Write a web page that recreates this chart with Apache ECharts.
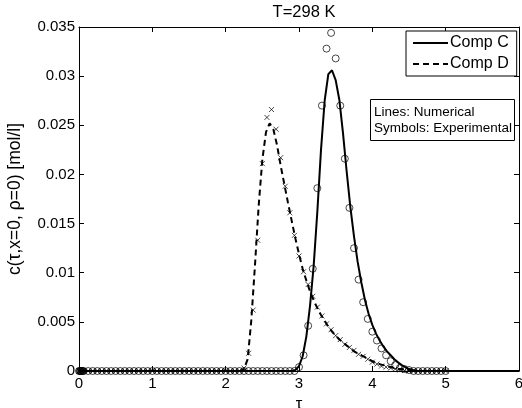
<!DOCTYPE html>
<html>
<head>
<meta charset="utf-8">
<script src="https://cdn.jsdelivr.net/npm/echarts@6/dist/echarts.min.js"></script>
<style>html,body{margin:0;padding:0;background:#fff;}#chart{width:522px;height:408px;}</style>
</head>
<body>
<div id="chart"></div>
<script>
// Experimental sampling times (tau)
var tauExp = [0,0.01,0.02,0.03,0.04,0.05,0.0625,0.125,0.1875,0.25,0.3125,0.375,0.4375,0.5,0.5625,0.625,0.6875,0.75,0.8125,0.875,0.9375,1,1.0625,1.125,1.1875,1.25,1.3125,1.375,1.4375,1.5,1.5625,1.625,1.6875,1.75,1.8125,1.875,1.9375,2,2.0625,2.125,2.1875,2.25,2.3125,2.375,2.4375,2.5,2.5625,2.625,2.6875,2.75,2.8125,2.875,2.9375,3,3.0625,3.125,3.1875,3.25,3.3125,3.375,3.4375,3.5,3.5625,3.625,3.6875,3.75,3.8125,3.875,3.9375,4,4.0625,4.125,4.1875,4.25,4.3125,4.375,4.4375,4.5,4.5625,4.625,4.6875,4.75,4.8125,4.875,4.9375,5];
// Comp C experimental (circles)
var compCExp = [0,0,0,0,0,0,0,0,0,0,0,0,0,0,0,0,0,0,0,0,0,0,0,0,0,0,0,0,0,0,0,0,0,0,0,0,0,0,0,0,0,0,0,0,0,0,0,0,0,0,0,0,0,
  0.0004,0.0016,0.0046,0.0104,0.0186,0.0270,0.0328,0.0344,0.0318,0.0270,0.0216,0.0166,0.0125,0.0093,0.0070,0.0053,0.0040,0.0031,0.0023,0.0016,0.0010,0.0006,0.0003,0.0002,0.0001,
  0,0,0,0,0,0,0,0];
// Comp D experimental (crosses)
var compDExp = [0,0,0,0,0,0,0,0,0,0,0,0,0,0,0,0,0,0,0,0,0,0,0,0,0,0,0,0,0,0,0,0,0,0,0,0,0,0,0,0,0,
  0.0003,0.0018,0.0062,0.0133,0.0211,0.0258,0.0266,0.0246,0.0217,0.0188,0.0161,0.0138,0.0117,0.0101,0.0088,0.0076,0.0065,0.0056,0.0048,0.0042,0.0036,0.0032,0.0027,0.0024,0.0021,0.0017,0.0015,0.0012,0.0009,0.0007,0.0005,0.0004,0.0003,0.0002,0.0001,0.00005,
  0,0,0,0,0,0,0,0,0];
// Numerical solution grid
var tauNum = [0,2.2,2.25,2.3,2.35,2.4,2.45,2.5,2.55,2.6,2.65,2.7,2.75,2.8,2.85,2.9,2.95,3.0,3.05,3.1,3.15,3.2,3.25,3.3,3.35,3.4,3.45,3.5,3.55,3.6,3.65,3.7,3.75,3.8,3.85,3.9,3.95,4.0,4.05,4.1,4.15,4.2,4.25,4.3,4.35,4.4,4.45,4.5,4.55,4.6,4.65,4.7,5,6];
var compCNum = [0,0,0,0,0,0,0,0,0,0,0,0,0,0,0,0,
  0.0001,0.0005,0.0015,0.0035,0.0066,0.0107,0.0162,0.0225,0.0275,0.0302,
  0.0306,0.0296,0.0276,0.0242,0.0203,0.0167,0.0137,0.0111,0.0090,0.0072,
  0.0058,0.0047,0.0038,0.0031,0.0025,0.0020,0.0016,0.0012,0.0009,0.0006,
  0.0004,0.0002,0.0001,0.00003,0,0,0,0];
var compDNum = [0,0,
  0.0002,0.0012,0.0052,0.0108,0.0168,0.0215,0.0243,0.0252,0.0246,0.0230,
  0.0209,0.0190,0.0171,0.0153,0.0135,0.0119,0.0104,0.0092,0.0081,0.0072,
  0.0064,0.0057,0.0051,0.0045,0.0040,0.0036,0.0032,0.0029,0.0026,0.0023,
  0.0020,0.0018,0.0016,0.0014,0.0012,0.0010,0.0008,0.0007,0.0006,0.0005,
  0.0004,0.0003,0.0002,0.0002,0.0001,0.0001,0.00005,0,0,0,
  0,0];

function pairs(xs, ys){ return xs.map(function(x,i){ return [x, ys[i]]; }); }

var FONT = 'Liberation Sans, Arial, Helvetica, sans-serif';
var chart = echarts.init(document.getElementById('chart'), null, {renderer:'canvas'});
function axisCommon(){
  return {
    axisLine:{show:true, onZero:false, lineStyle:{color:'#000', width:1}},
    axisTick:{show:true, inside:true, length:5, lineStyle:{color:'#000', width:1}},
    splitLine:{show:false}
  };
}
chart.setOption({
  animation:false,
  backgroundColor:'#fff',
  title:[
    {text:'T=298 K', left:299, top:-1, textAlign:'center',
     textStyle:{fontFamily:FONT, fontSize:16.5, fontWeight:'normal', color:'#000'}},
    {text:'Lines: Numerical\nSymbols: Experimental', left:370, top:99,
     borderColor:'#000', borderWidth:1, backgroundColor:'#fff', padding:[5,3,5,4],
     textStyle:{fontFamily:FONT, fontSize:13.5, fontWeight:'normal', color:'#000', lineHeight:16}}
  ],
  legend:{
    data:['Comp C','Comp D'], orient:'vertical', left:406, top:31,
    borderColor:'#000', borderWidth:1, backgroundColor:'#fff',
    padding:[4,8,4,6], itemGap:5, itemWidth:35, itemHeight:14,
    itemStyle:{opacity:0},
    textStyle:{fontFamily:FONT, fontSize:16, color:'#000', padding:[0,0,0,-3]}
  },
  grid:{left:79, right:3, top:27, bottom:37, containLabel:false, outerBoundsMode:'none'},
  xAxis:[
    Object.assign({type:'value', min:0, max:6, interval:1, position:'bottom',
      name:'τ', nameLocation:'middle', nameGap:16,
      nameTextStyle:{fontFamily:FONT, fontSize:16.5, color:'#000'},
      axisLabel:{fontFamily:FONT, fontSize:15, color:'#000', margin:5}}, axisCommon()),
    Object.assign({type:'value', min:0, max:6, interval:1, position:'top',
      axisLabel:{show:false}}, axisCommon())
  ],
  yAxis:[
    Object.assign({type:'value', min:0, max:0.035, interval:0.005, position:'left',
      name:'c(τ,x=0, ρ=0) [mol/l]', nameLocation:'middle', nameGap:55,
      nameTextStyle:{fontFamily:FONT, fontSize:17.5, color:'#000'},
      axisLabel:{fontFamily:FONT, fontSize:15, color:'#000', margin:4,
        formatter:function(v){ return String(+v.toFixed(3)); }}}, axisCommon()),
    Object.assign({type:'value', min:0, max:0.035, interval:0.005, position:'right',
      axisLabel:{show:false}}, axisCommon())
  ],
  series:[
    {name:'Comp C', type:'line', data:pairs(tauNum, compCNum), symbol:'none', z:3,
     lineStyle:{color:'#000', width:2, type:'solid'}, itemStyle:{color:'#000'}},
    {name:'Comp D', type:'line', data:pairs(tauNum, compDNum), symbol:'none', z:3,
     lineStyle:{color:'#000', width:2, type:[6,4]}, itemStyle:{color:'#000'}},
    {name:'Comp C exp', type:'scatter', data:pairs(tauExp, compCExp), symbol:'circle', symbolSize:7, z:4,
     itemStyle:{color:'rgba(0,0,0,0)', borderColor:'#000', borderWidth:0.9}},
    {name:'Comp D exp', type:'scatter', data:pairs(tauExp, compDExp),
     symbol:'path://M0,0L10,10M10,0L0,10', symbolSize:5, z:4,
     itemStyle:{color:'rgba(0,0,0,0)', borderColor:'#000', borderWidth:0.9}}
  ]
});
</script>
</body>
</html>
